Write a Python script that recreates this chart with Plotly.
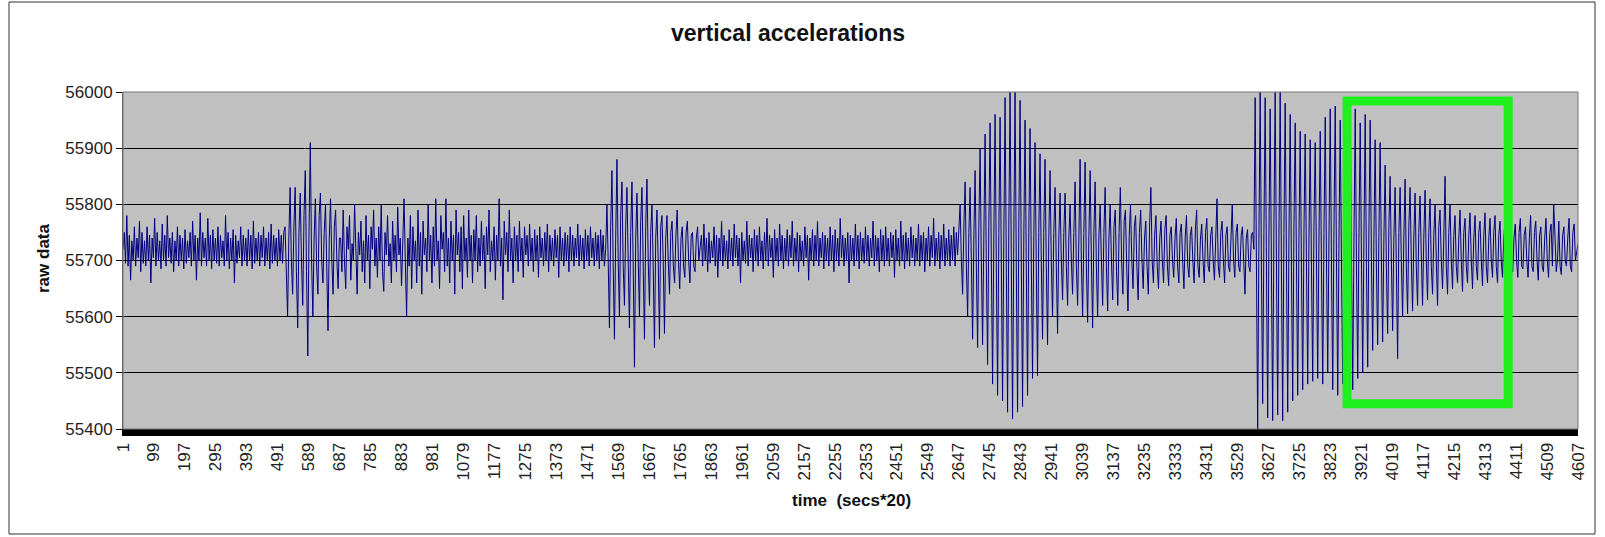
import numpy as np
import plotly.graph_objects as go

# ---- data (raw sensor values, per segment) ----
seg_bounds = [1, 514, 690, 1533, 1723, 1828, 2651, 2904, 3126, 3585, 3886, 4107, 4376, 4607]

quiet_1 = [
    55720, 55750, 55695, 55780, 55690, 55745, 55665, 55735, 55700, 55760,
    55690, 55740, 55705, 55770, 55680, 55750, 55695, 55735, 55690, 55760,
    55700, 55745, 55660, 55740, 55705, 55775, 55690, 55750, 55700, 55735,
    55685, 55765, 55700, 55745, 55690, 55780, 55705, 55740, 55695, 55750,
    55680, 55735, 55700, 55760, 55690, 55745, 55700, 55740, 55685, 55755,
    55695, 55735, 55705, 55750, 55690, 55770, 55700, 55745, 55665, 55740,
    55700, 55785, 55690, 55750, 55705, 55740, 55690, 55775, 55700, 55745,
    55685, 55755, 55700, 55740, 55695, 55760, 55690, 55745, 55705, 55735,
    55690, 55780, 55700, 55750, 55685, 55740, 55700, 55755, 55660, 55745,
    55695, 55735, 55705, 55760, 55690, 55745, 55700, 55740, 55690, 55755,
    55700, 55745, 55685, 55770, 55695, 55740, 55700, 55750, 55690, 55745,
    55705, 55760, 55690, 55740, 55700, 55750, 55685, 55765, 55695, 55745,
    55700, 55740, 55690, 55755, 55700, 55745, 55695, 55750]
burst_1 = [
    55760, 55690, 55600, 55740, 55830, 55700, 55640, 55760, 55830, 55680,
    55580, 55750, 55820, 55700, 55620, 55780, 55860, 55680, 55530, 55760,
    55910, 55700, 55600, 55740, 55810, 55690, 55640, 55780, 55820, 55700,
    55660, 55750, 55800, 55690, 55575, 55740, 55810, 55700, 55640, 55760,
    55790, 55700, 55650, 55740]
noise_1 = [
    55740, 55680, 55790, 55700, 55650, 55760, 55720, 55780, 55665, 55730,
    55700, 55800, 55690, 55640, 55750, 55710, 55770, 55680, 55735, 55660,
    55780, 55700, 55745, 55650, 55760, 55720, 55790, 55690, 55740, 55670,
    55760, 55700, 55800, 55680, 55645, 55750, 55710, 55780, 55690, 55730,
    55660, 55770, 55700, 55745, 55680, 55795, 55710, 55740, 55655, 55735,
    55810, 55700, 55600, 55740, 55690, 55780, 55650, 55760, 55700, 55735,
    55660, 55790, 55690, 55750, 55640, 55770, 55710, 55740, 55680, 55800,
    55700, 55745, 55660, 55760, 55690, 55810, 55700, 55735, 55650, 55780,
    55720, 55750, 55680, 55810, 55690, 55740, 55660, 55770, 55700, 55745,
    55640, 55790, 55710, 55750, 55680, 55760, 55650, 55780, 55700, 55740,
    55670, 55790, 55700, 55745, 55660, 55755, 55700, 55780, 55680, 55740,
    55690, 55770, 55700, 55745, 55650, 55760, 55710, 55790, 55680, 55735,
    55700, 55760, 55665, 55745, 55700, 55810, 55690, 55740, 55630, 55770,
    55710, 55750, 55680, 55790, 55700, 55740, 55660, 55760, 55700, 55745,
    55680, 55770, 55700, 55740, 55670, 55760, 55710, 55745, 55690, 55765,
    55700, 55740, 55680, 55755, 55700, 55745, 55670, 55760, 55705, 55740,
    55690, 55750, 55700, 55765, 55680, 55745, 55700, 55740, 55690, 55755,
    55705, 55745, 55670, 55760, 55700, 55740, 55690, 55750, 55700, 55745,
    55680, 55760, 55700, 55745, 55690, 55740, 55705, 55765, 55690, 55745,
    55700, 55740, 55685, 55755, 55700, 55745, 55690, 55760, 55705, 55740,
    55690, 55750, 55700, 55745, 55685, 55755, 55700, 55745, 55690, 55720]
burst_2 = [
    55800, 55700, 55580, 55760, 55860, 55690, 55560, 55740, 55880, 55700,
    55600, 55780, 55840, 55690, 55620, 55760, 55830, 55700, 55580, 55750,
    55840, 55690, 55510, 55740, 55820, 55700, 55600, 55770, 55830, 55690,
    55560, 55760, 55845, 55700, 55620, 55750, 55800, 55690, 55545, 55740,
    55790, 55700, 55560, 55760, 55780, 55700, 55570, 55740]
decay_2 = [
    55780, 55700, 55640, 55750, 55770, 55690, 55660, 55745, 55790, 55700,
    55650, 55740, 55760, 55690, 55670, 55750, 55770, 55700, 55660, 55745,
    55750, 55690, 55680, 55740, 55760, 55700]
quiet_2 = [
    55720, 55745, 55690, 55765, 55700, 55740, 55680, 55750, 55695, 55735,
    55705, 55760, 55690, 55745, 55670, 55740, 55700, 55770, 55690, 55745,
    55700, 55735, 55685, 55755, 55700, 55740, 55690, 55765, 55705, 55745,
    55690, 55740, 55660, 55750, 55700, 55735, 55695, 55770, 55690, 55745,
    55705, 55740, 55680, 55755, 55700, 55745, 55690, 55760, 55700, 55735,
    55685, 55750, 55700, 55775, 55690, 55745, 55705, 55740, 55670, 55755,
    55700, 55740, 55690, 55765, 55700, 55745, 55685, 55740, 55700, 55755,
    55690, 55745, 55705, 55770, 55690, 55740, 55700, 55750, 55680, 55745,
    55700, 55735, 55690, 55760, 55705, 55745, 55665, 55740, 55700, 55755,
    55690, 55745, 55700, 55770, 55690, 55740, 55705, 55750, 55685, 55745,
    55700, 55740, 55690, 55760, 55700, 55745, 55680, 55755, 55700, 55740,
    55690, 55775, 55705, 55745, 55690, 55740, 55700, 55750, 55660, 55745,
    55700, 55740, 55690, 55765, 55700, 55745, 55685, 55750, 55700, 55740,
    55695, 55760, 55700, 55745, 55690, 55740, 55705, 55770, 55690, 55745,
    55700, 55740, 55680, 55755, 55700, 55745, 55690, 55760, 55700, 55740,
    55690, 55750, 55705, 55745, 55670, 55755, 55700, 55740, 55690, 55770,
    55700, 55745, 55685, 55750, 55700, 55740, 55690, 55760, 55705, 55745,
    55690, 55740, 55700, 55765, 55690, 55745, 55700, 55750, 55680, 55740,
    55700, 55760, 55690, 55745, 55705, 55775, 55690, 55740, 55700, 55750,
    55685, 55745, 55700, 55765, 55690, 55740, 55700, 55755, 55690, 55745,
    55700, 55760, 55690, 55750, 55710, 55770]
burst_3 = [
    55800, 55700, 55640, 55760, 55840, 55690, 55600, 55750, 55830, 55700, 55560, 55740,
    55860, 55690, 55545, 55760, 55900, 55700, 55550, 55740, 55925, 55690, 55515, 55760,
    55945, 55700, 55480, 55740, 55960, 55690, 55460, 55750, 55955, 55700, 55450, 55740,
    55990, 55690, 55430, 55760, 56000, 55700, 55418, 55740, 56000, 55690, 55430, 55760,
    55985, 55700, 55440, 55740, 55950, 55690, 55460, 55750, 55935, 55700, 55490, 55740,
    55910, 55690, 55495, 55750]
decay_3 = [
    55890, 55700, 55560, 55750, 55880, 55690, 55550, 55740, 55860, 55700, 55600, 55750,
    55830, 55690, 55570, 55740, 55820, 55700, 55630, 55750, 55820, 55690, 55620, 55740,
    55800, 55700, 55640, 55750, 55840, 55690, 55620, 55740, 55880, 55700, 55600, 55750,
    55875, 55690, 55590, 55740, 55860, 55700, 55580, 55750, 55840, 55690, 55600, 55740,
    55800, 55700, 55620, 55750, 55830, 55690, 55610, 55740]
quiet_3 = [
    55800, 55700, 55630, 55760, 55790, 55680, 55620, 55750, 55830, 55700,
    55640, 55770, 55790, 55690, 55610, 55745, 55800, 55700, 55650, 55760,
    55780, 55690, 55630, 55750, 55790, 55700, 55650, 55740, 55770, 55690,
    55640, 55760, 55830, 55700, 55660, 55745, 55780, 55690, 55650, 55740,
    55770, 55700, 55660, 55755, 55780, 55690, 55655, 55745, 55760, 55700,
    55670, 55740, 55775, 55690, 55660, 55750, 55765, 55700, 55650, 55740,
    55780, 55690, 55670, 55745, 55760, 55700, 55660, 55755, 55790, 55690,
    55670, 55740, 55765, 55700, 55660, 55750, 55775, 55690, 55680, 55745,
    55760, 55700, 55665, 55740, 55810, 55690, 55670, 55750, 55770, 55700,
    55660, 55745, 55760, 55690, 55680, 55740, 55800, 55700, 55670, 55750,
    55765, 55690, 55680, 55745, 55760, 55700, 55640, 55740, 55755, 55690,
    55680, 55745, 55750, 55720]
burst_4 = [
    55990, 55700, 55400, 55740, 56000, 55690, 55445, 55750, 55990, 55700, 55420, 55740,
    55970, 55690, 55415, 55760, 56000, 55700, 55425, 55740, 56000, 55690, 55415, 55750,
    55980, 55700, 55430, 55740, 55960, 55690, 55450, 55760, 55945, 55700, 55460, 55740,
    55930, 55690, 55470, 55750, 55925, 55700, 55480, 55740, 55915, 55690, 55485, 55760,
    55910, 55700, 55490, 55740, 55930, 55690, 55480, 55750, 55955, 55700, 55500, 55740,
    55970, 55690, 55470, 55760, 55975, 55700, 55460, 55740, 55950, 55690, 55480, 55750,
    55960, 55700, 55470, 55740]
decay_4a = [
    55975, 55700, 55470, 55740, 55970, 55690, 55490, 55750, 55945, 55700, 55500, 55740,
    55960, 55690, 55510, 55760, 55950, 55700, 55540, 55740, 55915, 55690, 55550, 55750,
    55910, 55700, 55555, 55740, 55870, 55690, 55570, 55760, 55850, 55700, 55575, 55740,
    55830, 55690, 55525, 55750, 55830, 55700, 55600, 55740, 55845, 55690, 55605, 55760,
    55830, 55700, 55610, 55740, 55820, 55690, 55620, 55750]
decay_4b = [
    55815, 55710, 55620, 55740, 55825, 55700, 55630, 55750, 55810, 55690,
    55640, 55745, 55800, 55700, 55620, 55760, 55790, 55700, 55650, 55740,
    55850, 55690, 55640, 55750, 55800, 55700, 55650, 55745, 55780, 55690,
    55660, 55740, 55790, 55700, 55645, 55750, 55775, 55690, 55660, 55745,
    55785, 55700, 55650, 55740, 55780, 55690, 55665, 55750, 55770, 55700,
    55655, 55745, 55785, 55690, 55660, 55740, 55775, 55700, 55670, 55750,
    55780, 55690, 55660, 55745, 55770, 55700, 55670, 55740]
quiet_4 = [
    55770, 55700, 55670, 55745, 55780, 55690, 55680, 55740, 55765, 55700,
    55670, 55750, 55775, 55690, 55685, 55745, 55760, 55700, 55670, 55740,
    55780, 55690, 55680, 55750, 55770, 55700, 55665, 55745, 55760, 55690,
    55680, 55740, 55775, 55700, 55670, 55750, 55765, 55690, 55800, 55745,
    55680, 55700, 55770, 55690, 55675, 55745, 55760, 55700, 55690, 55740,
    55775, 55690, 55680, 55750, 55765, 55700, 55720, 55730]

segments = [quiet_1, burst_1, noise_1, burst_2, decay_2, quiet_2, burst_3, decay_3,
            quiet_3, burst_4, decay_4a, decay_4b, quiet_4]

tick_labels = [str(v) for v in range(1, 4608, 98)]
y_ticks = [55400, 55500, 55600, 55700, 55800, 55900, 56000]
box = dict(x0=3876, x1=4386, y0=55445, y1=55984)

# ---- build series: sample indices within each segment ----
xs, ys = [], []
for k, vals in enumerate(segments):
    a, b = seg_bounds[k], seg_bounds[k + 1]
    last = k == len(segments) - 1
    xs.extend(np.linspace(a, b, len(vals), endpoint=last).tolist())
    ys.extend(vals)

FONT = "Arial, Liberation Sans, sans-serif"

fig = go.Figure()
fig.add_trace(go.Scatter(x=xs, y=ys, mode="lines",
                         line=dict(color="#000080", width=1), hoverinfo="skip",
                         showlegend=False))

L, R, T, B = 123, 27, 92, 108
W, H = 1605, 537
pw, ph = W - L - R, H - T - B

def px(xp):
    return (xp - L) / pw

def py(yp):
    return (H - B - yp) / ph

fig.update_layout(
    width=W, height=H,
    margin=dict(l=L, r=R, t=T, b=B),
    paper_bgcolor="white", plot_bgcolor="#C0C0C0",
    font=dict(family=FONT, size=17, color="#222"),
    showlegend=False,
    xaxis=dict(range=[1, 4607], tickmode="array",
               tickvals=[int(t) for t in tick_labels], ticktext=tick_labels,
               tickangle=-90, showgrid=False, zeroline=False,
               showline=True, linecolor="black", linewidth=7,
               ticks="", tickfont=dict(size=17, family=FONT, color="#222")),
    yaxis=dict(range=[55400, 56000], tickmode="array", tickvals=y_ticks,
               ticktext=[str(v) for v in y_ticks],
               showgrid=True, gridcolor="black", gridwidth=1, zeroline=False,
               ticks="outside", ticklen=6, tickcolor="black",
               showline=True, linecolor="#555", linewidth=1,
               tickfont=dict(size=17, family=FONT, color="#222")),
)

# plot area border
fig.add_shape(type="rect", xref="paper", yref="paper", x0=0, x1=1, y0=0, y1=1,
              line=dict(color="#777", width=1), layer="above")
# outer chart border
fig.add_shape(type="rect", xref="paper", yref="paper",
              x0=px(9), x1=px(1595), y0=py(534), y1=py(2),
              line=dict(color="#333", width=1))
# green highlight box
fig.add_shape(type="rect", xref="x", yref="y", **box,
              line=dict(color="#1EF01E", width=9), layer="above")

fig.add_annotation(text="<b>vertical accelerations</b>", xref="paper", yref="paper",
                   x=px(788), y=py(33), showarrow=False, xanchor="center",
                   yanchor="middle", font=dict(size=23, family=FONT, color="#111"))
fig.add_annotation(text="<b>raw data</b>", xref="paper", yref="paper",
                   x=px(43), y=py(258), showarrow=False, textangle=-90,
                   xanchor="center", yanchor="middle",
                   font=dict(size=17, family=FONT, color="#111"))
fig.add_annotation(text="<b>time  (secs*20)</b>", xref="paper", yref="paper",
                   x=px(851), y=py(500), showarrow=False, xanchor="center",
                   yanchor="middle", font=dict(size=17, family=FONT, color="#111"))

fig.write_html("out.html",
               config={"displayModeBar": False},
               post_script="document.body.style.margin='0px';"
                           "document.body.style.overflow='hidden';")
